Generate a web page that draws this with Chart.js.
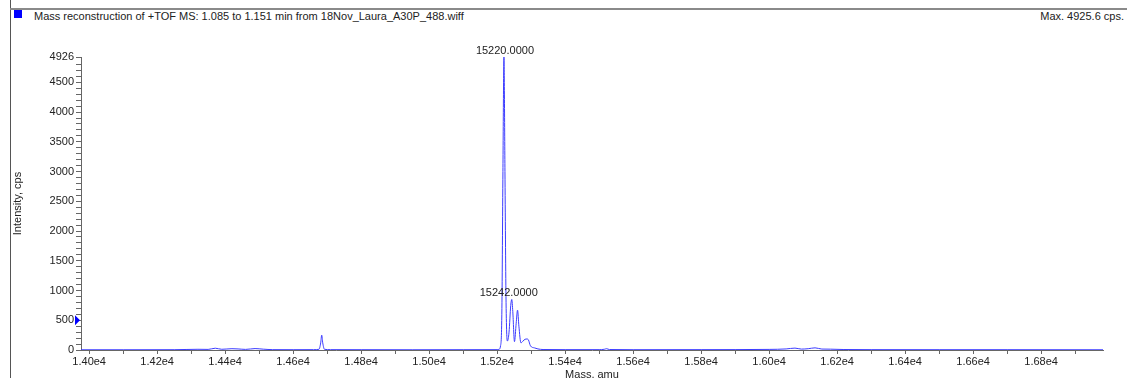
<!DOCTYPE html>
<html>
<head>
<meta charset="utf-8">
<script src="https://cdn.jsdelivr.net/npm/chart.js@4"></script>
<style>
  html, body { margin: 0; padding: 0; background: #fff; }
  body { width: 1127px; height: 378px; position: relative; overflow: hidden;
         font-family: "Liberation Sans", Arial, sans-serif; font-size: 11px; color: #222; }
  .frame-left { position: absolute; left: 10px; top: 0; width: 1px; height: 378px; background: #555; }
  .frame-top { position: absolute; left: 10px; top: 8px; width: 1117px; height: 2px; background: #8a8a8a; }
  .legend-box { position: absolute; left: 14px; top: 10px; width: 8px; height: 8px; background: #0000ff; }
  .title { position: absolute; left: 34px; top: 10px; white-space: nowrap; }
  .max { position: absolute; right: 3px; top: 10px; white-space: nowrap; }
  #wrap { position: absolute; left: 0; top: 0; width: 1127px; height: 378px; }
</style>
</head>
<body>
<div class="frame-left"></div>
<div class="frame-top"></div>
<div class="legend-box"></div>
<div class="title">Mass reconstruction of +TOF MS: 1.085 to 1.151 min from 18Nov_Laura_A30P_488.wiff</div>
<div class="max">Max. 4925.6 cps.</div>
<div id="wrap"><canvas id="spectrum"></canvas></div>
<script>
// spectrum (mass in amu, intensity in cps)
const masses = [
  13976, 14100, 14250, 14320, 14350, 14371, 14390, 14420, 14438, 14460, 14488, 14512, 14540, 14600,
  14660, 14676, 14681, 14684, 14687, 14692, 14710, 14800, 14950, 15100, 15200,
  15205, 15210, 15214, 15217, 15220, 15223, 15226, 15230, 15235, 15240, 15243, 15246, 15251,
  15256, 15260, 15264, 15270, 15276, 15282, 15288, 15292, 15298, 15310, 15320, 15335,
  15400, 15500, 15515, 15522, 15530, 15600, 15800, 16000, 16050, 16076, 16095, 16115, 16135,
  16155, 16180, 16220, 16300, 16500, 16700, 16982
];
const intensities = [
  4, 4, 5, 12, 10, 30, 12, 22, 18, 10, 24, 14, 6, 5,
  6, 12, 120, 250, 120, 12, 6, 5, 4, 5, 6,
  10, 70, 700, 3000, 4926, 3000, 900, 150, 300, 750, 850, 650, 140,
  450, 670, 400, 120, 150, 180, 185, 170, 70, 35, 18, 8,
  6, 6, 12, 22, 8, 5, 6, 10, 18, 32, 15, 22, 36,
  16, 14, 8, 6, 5, 5, 4
];

// labelled peaks
const peakMasses = [15220, 15243];
const peakIntensities = [4926, 850];
const peakTexts = ['15220.0000', '15242.0000'];

// axes
const xMin = 13976, xMax = 16982;
const yMax = 4926;
const yMajorTicks = [0, 500, 1000, 1500, 2000, 2500, 3000, 3500, 4000, 4500, 4926];
const markerValue = 500;

const FONT = { family: '"Liberation Sans", Arial, sans-serif', size: 11 };

const peakLabelPlugin = {
  id: 'peakLabels',
  afterDatasetsDraw(chart) {
    const { ctx, scales: { x, y } } = chart;
    const nudge = [1, -3];
    ctx.save();
    ctx.font = '11px "Liberation Sans", Arial, sans-serif';
    ctx.fillStyle = '#222';
    ctx.textAlign = 'center';
    ctx.textBaseline = 'bottom';
    peakMasses.forEach((m, i) => {
      ctx.fillText(peakTexts[i], x.getPixelForValue(m) + nudge[i], y.getPixelForValue(peakIntensities[i]) - 1);
    });
    // little blue marker on the y axis
    const my = y.getPixelForValue(markerValue);
    const ax = x.left;
    ctx.fillStyle = '#0000ff';
    ctx.beginPath();
    ctx.moveTo(ax - 6, my - 5);
    ctx.lineTo(ax - 1, my);
    ctx.lineTo(ax - 6, my + 5);
    ctx.closePath();
    ctx.fill();
    ctx.restore();
  }
};

const points = masses.map((m, i) => ({ x: m, y: intensities[i] }));

new Chart(document.getElementById('spectrum'), {
  type: 'line',
  data: {
    datasets: [{
      data: points,
      borderColor: 'rgb(60,60,255)',
      borderWidth: 1,
      pointRadius: 0,
      fill: false,
      cubicInterpolationMode: 'monotone'
    }]
  },
  options: {
    responsive: true,
    maintainAspectRatio: false,
    animation: false,
    layout: { padding: { left: 0, right: 24, top: 57, bottom: 0 } },
    plugins: { legend: { display: false }, tooltip: { enabled: false } },
    scales: {
      x: {
        type: 'linear',
        min: xMin,
        max: xMax,
        afterFit(s) { s.height = 28; },
        afterBuildTicks(s) {
          const t = [];
          for (let v = 14000; v < xMax; v += 100) t.push({ value: v });
          s.ticks = t;
        },
        border: { color: '#666' },
        grid: { display: true, drawOnChartArea: false, tickLength: 4, color: '#666' },
        ticks: {
          autoSkip: false, maxRotation: 0, padding: 1, color: '#222', font: FONT,
          callback: v => (v % 200 === 0 ? (v / 1e4).toFixed(2) + 'e4' : '')
        },
        title: { display: true, text: 'Mass, amu', color: '#222', font: FONT, padding: { top: 0, bottom: -4 } }
      },
      y: {
        min: 0,
        max: yMax,
        afterFit(s) { s.width = 81; },
        afterBuildTicks(s) {
          const t = [];
          for (let v = 0; v < 4900; v += 100) t.push({ value: v });
          t.push({ value: yMax });
          s.ticks = t;
        },
        border: { color: '#666' },
        grid: { display: true, drawOnChartArea: false, tickLength: 5, color: '#666' },
        ticks: {
          autoSkip: false, padding: 2, color: '#222', font: FONT,
          callback: v => (yMajorTicks.includes(v) ? String(v) : '')
        },
        title: { display: true, text: 'Intensity, cps', color: '#222', font: FONT, padding: { top: 11, bottom: 0 } }
      }
    }
  },
  plugins: [peakLabelPlugin]
});
</script>
</body>
</html>
